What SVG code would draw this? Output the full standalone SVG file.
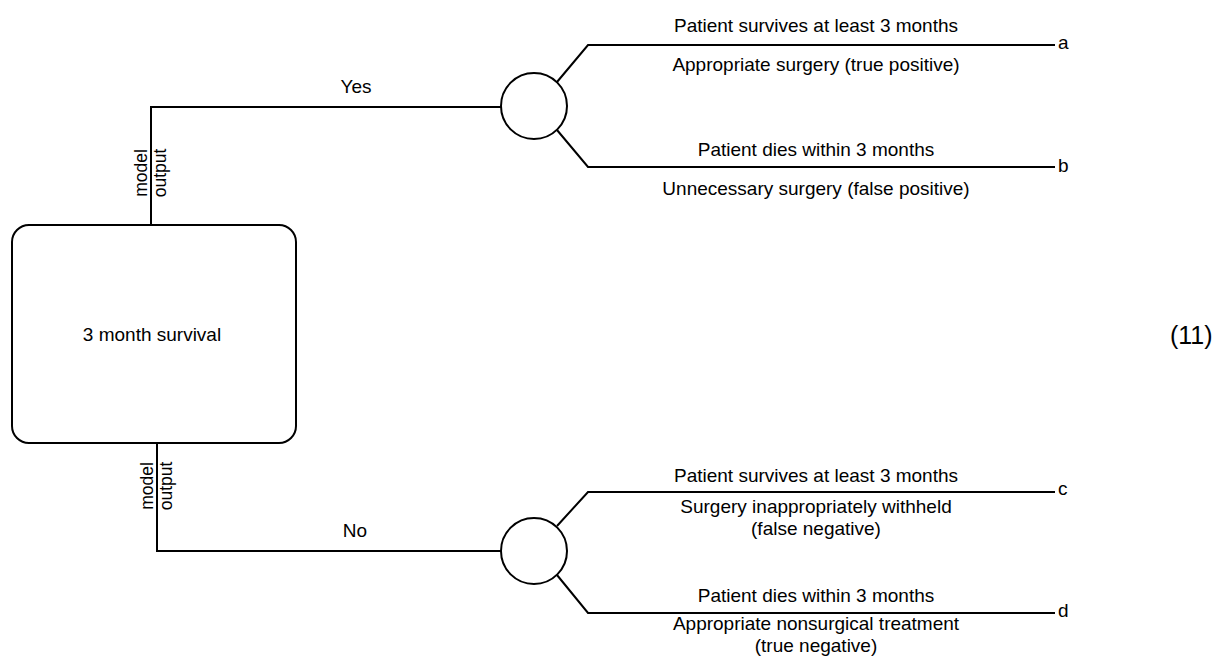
<svg xmlns="http://www.w3.org/2000/svg" width="1225" height="659" viewBox="0 0 1225 659">
<style>
.ln{fill:none;stroke:#000;stroke-width:2}
.t{font-family:"Liberation Sans",Arial,sans-serif;font-size:19px;fill:#000}
.v{font-size:17.5px}
.c{text-anchor:middle}
</style>
<rect width="1225" height="659" fill="#fff"/>
<g id="connectors">
<polyline class="ln" points="151,225 151,107 501,107"/>
<polyline class="ln" points="157,443 157,551 501,551"/>
<polyline class="ln" points="557,82 588,45 1055,45"/>
<polyline class="ln" points="557,130 588,167 1055,167"/>
<polyline class="ln" points="557,526 588,492 1055,492"/>
<polyline class="ln" points="557,575 588,613 1055,613"/>
<text class="t c" x="356" y="93">Yes</text>
<text class="t c" x="355" y="537">No</text>
<text class="t v c" transform="translate(147,173) rotate(-90)">model</text>
<text class="t v c" transform="translate(166,173) rotate(-90)">output</text>
<text class="t v c" transform="translate(153,486) rotate(-90)">model</text>
<text class="t v c" transform="translate(172,486) rotate(-90)">output</text>
</g>
<g id="survival">
<rect class="ln" x="12" y="225" width="284" height="218" rx="17"/>
<text class="t c" x="152" y="341">3 month survival</text>
</g>
<g id="chance-yes">
<circle class="ln" cx="534" cy="106" r="33"/>
</g>
<g id="chance-no">
<circle class="ln" cx="534" cy="551" r="33"/>
</g>
<g id="outcome-a">
<text class="t c" x="816" y="32">Patient survives at least 3 months</text>
<text class="t c" x="816" y="71">Appropriate surgery (true positive)</text>
<text class="t" x="1058" y="49">a</text>
</g>
<g id="outcome-b">
<text class="t c" x="816" y="156">Patient dies within 3 months</text>
<text class="t c" x="816" y="195">Unnecessary surgery (false positive)</text>
<text class="t" x="1058" y="172">b</text>
</g>
<g id="outcome-c">
<text class="t c" x="816" y="482">Patient survives at least 3 months</text>
<text class="t c" x="816" y="513">Surgery inappropriately withheld</text>
<text class="t c" x="816" y="535">(false negative)</text>
<text class="t" x="1058" y="495">c</text>
</g>
<g id="outcome-d">
<text class="t c" x="816" y="602">Patient dies within 3 months</text>
<text class="t c" x="816" y="630">Appropriate nonsurgical treatment</text>
<text class="t c" x="816" y="652">(true negative)</text>
<text class="t" x="1058" y="617">d</text>
</g>
<text class="t" x="1170" y="344" style="font-size:25px">(11)</text>
</svg>
